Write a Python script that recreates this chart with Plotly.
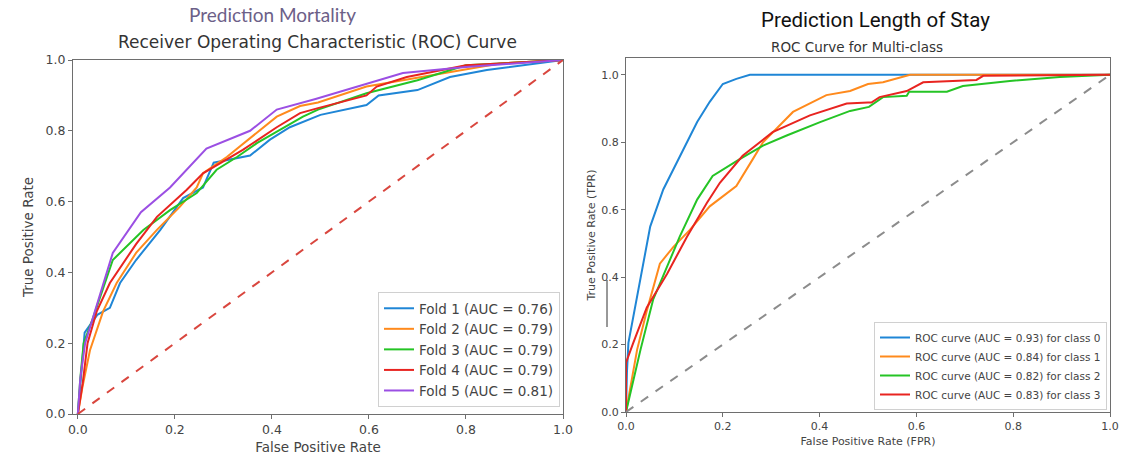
import plotly.graph_objects as go

# ---------------- Left panel data (Prediction Mortality) ----------------
fold1_fpr = [0, 0.005, 0.014, 0.04, 0.066, 0.087, 0.12, 0.17, 0.217, 0.258, 0.28, 0.355, 0.396, 0.437, 0.5, 0.595, 0.62, 0.70, 0.767, 0.843, 0.92, 1.0]
fold1_tpr = [0, 0.08, 0.23, 0.28, 0.30, 0.37, 0.435, 0.52, 0.61, 0.64, 0.71, 0.73, 0.775, 0.81, 0.845, 0.873, 0.90, 0.915, 0.952, 0.972, 0.985, 1.0]

fold2_fpr = [0, 0.01, 0.025, 0.052, 0.08, 0.12, 0.163, 0.21, 0.245, 0.258, 0.307, 0.355, 0.41, 0.458, 0.495, 0.595, 0.733, 0.87, 1.0]
fold2_tpr = [0, 0.08, 0.18, 0.29, 0.37, 0.455, 0.52, 0.585, 0.64, 0.68, 0.726, 0.78, 0.84, 0.87, 0.88, 0.925, 0.958, 0.99, 1.0]

fold3_fpr = [0, 0.005, 0.012, 0.031, 0.072, 0.135, 0.19, 0.245, 0.286, 0.328, 0.369, 0.464, 0.495, 0.595, 0.70, 0.80, 1.0]
fold3_tpr = [0, 0.1, 0.2, 0.27, 0.435, 0.52, 0.576, 0.624, 0.69, 0.726, 0.765, 0.84, 0.86, 0.906, 0.943, 0.985, 1.0]

fold4_fpr = [0, 0.01, 0.02, 0.039, 0.066, 0.12, 0.163, 0.224, 0.258, 0.34, 0.41, 0.458, 0.495, 0.595, 0.616, 0.678, 0.80, 1.0]
fold4_tpr = [0, 0.087, 0.2, 0.29, 0.37, 0.48, 0.557, 0.633, 0.68, 0.746, 0.81, 0.85, 0.864, 0.90, 0.925, 0.952, 0.985, 1.0]

fold5_fpr = [0, 0.005, 0.015, 0.031, 0.072, 0.13, 0.19, 0.265, 0.355, 0.41, 0.49, 0.67, 0.80, 1.0]
fold5_tpr = [0, 0.1, 0.2, 0.27, 0.455, 0.57, 0.64, 0.75, 0.80, 0.86, 0.89, 0.963, 0.98, 1.0]

fold_names = ["Fold 1 (AUC = 0.76)", "Fold 2 (AUC = 0.79)", "Fold 3 (AUC = 0.79)",
              "Fold 4 (AUC = 0.79)", "Fold 5 (AUC = 0.81)"]

# ---------------- Right panel data (Prediction Length of Stay) ----------------
class0_fpr = [0, 0.002, 0.005, 0.015, 0.03, 0.05, 0.077, 0.105, 0.147, 0.173, 0.2, 0.228, 0.256, 1.0]
class0_tpr = [0, 0.12, 0.205, 0.28, 0.40, 0.55, 0.66, 0.74, 0.86, 0.92, 0.973, 0.988, 1.0, 1.0]

class1_fpr = [0, 0.023, 0.043, 0.07, 0.098, 0.132, 0.173, 0.228, 0.262, 0.283, 0.345, 0.414, 0.463, 0.50, 0.531, 0.587, 1.0]
class1_tpr = [0, 0.185, 0.30, 0.44, 0.49, 0.54, 0.61, 0.67, 0.75, 0.80, 0.89, 0.94, 0.952, 0.973, 0.978, 1.0, 1.0]

class2_fpr = [0, 0.03, 0.056, 0.085, 0.111, 0.147, 0.179, 0.235, 0.283, 0.332, 0.401, 0.463, 0.502, 0.531, 0.58, 0.585, 0.663, 0.696, 0.793, 0.896, 1.0]
class2_tpr = [0, 0.185, 0.333, 0.43, 0.52, 0.63, 0.70, 0.75, 0.79, 0.82, 0.86, 0.893, 0.905, 0.934, 0.938, 0.95, 0.95, 0.967, 0.982, 0.994, 1.0]

class3_fpr = [0, 0, 0.015, 0.043, 0.085, 0.126, 0.167, 0.194, 0.241, 0.303, 0.38, 0.456, 0.50, 0.507, 0.524, 0.58, 0.614, 0.724, 0.738, 1.0]
class3_tpr = [0, 0.146, 0.205, 0.31, 0.41, 0.52, 0.62, 0.68, 0.76, 0.83, 0.88, 0.915, 0.918, 0.918, 0.934, 0.952, 0.978, 0.985, 0.997, 1.0]

class_names = ["ROC curve (AUC = 0.93) for class 0", "ROC curve (AUC = 0.84) for class 1",
               "ROC curve (AUC = 0.82) for class 2", "ROC curve (AUC = 0.83) for class 3"]

diag = [0, 1]
tick_vals = [0.0, 0.2, 0.4, 0.6, 0.8, 1.0]

# ---------------- Styling ----------------
BLUE, ORANGE, GREEN, RED, PURPLE = "#1f86d6", "#ff8a1c", "#25c425", "#e82420", "#9b4fe3"
FONT = "DejaVu Sans"
W, H = 1130, 457

fig = go.Figure()

left_series = [(fold1_fpr, fold1_tpr, BLUE), (fold2_fpr, fold2_tpr, ORANGE),
               (fold3_fpr, fold3_tpr, GREEN), (fold4_fpr, fold4_tpr, RED),
               (fold5_fpr, fold5_tpr, PURPLE)]
for (fx, fy, col), name in zip(left_series, fold_names):
    fig.add_trace(go.Scatter(x=fx, y=fy, mode="lines", name=name,
                             line=dict(color=col, width=2), xaxis="x", yaxis="y",
                             legend="legend"))
fig.add_trace(go.Scatter(x=diag, y=diag, mode="lines", showlegend=False,
                         line=dict(color="#d9463e", width=2, dash="dash"),
                         xaxis="x", yaxis="y"))

right_series = [(class0_fpr, class0_tpr, BLUE), (class1_fpr, class1_tpr, ORANGE),
                (class2_fpr, class2_tpr, GREEN), (class3_fpr, class3_tpr, RED)]
for (cx, cy, col), name in zip(right_series, class_names):
    fig.add_trace(go.Scatter(x=cx, y=cy, mode="lines", name=name,
                             line=dict(color=col, width=2), xaxis="x2", yaxis="y2",
                             legend="legend2"))
fig.add_trace(go.Scatter(x=diag, y=diag, mode="lines", showlegend=False,
                         line=dict(color="#8c8c8c", width=2, dash="dash"),
                         xaxis="x2", yaxis="y2"))


def px_x(p):
    return p / W


def px_y(p):
    return 1 - p / H


axis_common = dict(showline=True, mirror=True, linecolor="#6e6e6e", linewidth=1.3,
                   ticks="outside", ticklen=4, tickcolor="#6e6e6e", showgrid=False,
                   zeroline=False, tickvals=tick_vals, tickformat=".1f", automargin=False)

fig.update_layout(
    width=W, height=H,
    margin=dict(l=0, r=0, t=0, b=0, autoexpand=False),
    paper_bgcolor="white", plot_bgcolor="white",
    font=dict(family=FONT, color="#444444"),
    xaxis=dict(domain=[px_x(73), px_x(563)], range=[-0.01, 1.0], anchor="y",
               tickfont=dict(size=12.5, color="#444"),
               title=dict(text="False Positive Rate", font=dict(size=13.5, color="#444"), standoff=6),
               **axis_common),
    yaxis=dict(domain=[px_y(414), px_y(60)], range=[0, 1.0], anchor="x",
               tickfont=dict(size=12.5, color="#444"),
               title=dict(text="True Positive Rate", font=dict(size=13.5, color="#444"), standoff=8),
               **axis_common),
    xaxis2=dict(domain=[px_x(626), px_x(1110)], range=[0, 1.0], anchor="y2",
                tickfont=dict(size=11, color="#444"),
                title=dict(text="False Positive Rate (FPR)", font=dict(size=11, color="#444"), standoff=4),
                **axis_common),
    yaxis2=dict(domain=[px_y(412), px_y(58)], range=[0, 1.05], anchor="x2",
                tickfont=dict(size=11, color="#444"),
                title=dict(text="True Positive Rate (TPR)", font=dict(size=11, color="#444"), standoff=3),
                **axis_common),
    legend=dict(x=px_x(560), y=px_y(407), xanchor="right", yanchor="bottom",
                bgcolor="rgba(255,255,255,0.85)", bordercolor="#d0d0d0", borderwidth=1,
                font=dict(size=13.5, color="#444"), itemwidth=30, tracegroupgap=0),
    legend2=dict(x=px_x(1107), y=px_y(410), xanchor="right", yanchor="bottom",
                 bgcolor="rgba(255,255,255,0.85)", bordercolor="#d0d0d0", borderwidth=1,
                 font=dict(size=10.5, color="#444"), itemwidth=30, tracegroupgap=0),
    annotations=[
        dict(text="Prediction Mortality", x=px_x(272), y=px_y(15), xref="paper", yref="paper",
             xanchor="center", yanchor="middle",
             showarrow=False, font=dict(family="Lato", size=19, color="#6c6088")),
        dict(text="Receiver Operating Characteristic (ROC) Curve", x=px_x(317), y=px_y(42),
             xref="paper", yref="paper", xanchor="center", yanchor="middle", showarrow=False,
             font=dict(family=FONT, size=17, color="#333")),
        dict(text="Prediction Length of Stay", x=px_x(875), y=px_y(20), xref="paper", yref="paper",
             xanchor="center", yanchor="middle",
             showarrow=False, font=dict(family="Roboto", size=20.5, color="#111")),
        dict(text="ROC Curve for Multi-class", x=px_x(857), y=px_y(47), xref="paper", yref="paper",
             xanchor="center", yanchor="middle",
             showarrow=False, font=dict(family=FONT, size=13.5, color="#333")),
    ],
    shapes=[
        dict(type="line", xref="paper", yref="paper", x0=px_x(607), x1=px_x(607),
             y0=px_y(280), y1=px_y(327), line=dict(color="#333", width=1)),
    ],
)

fig.write_html("out.html")
